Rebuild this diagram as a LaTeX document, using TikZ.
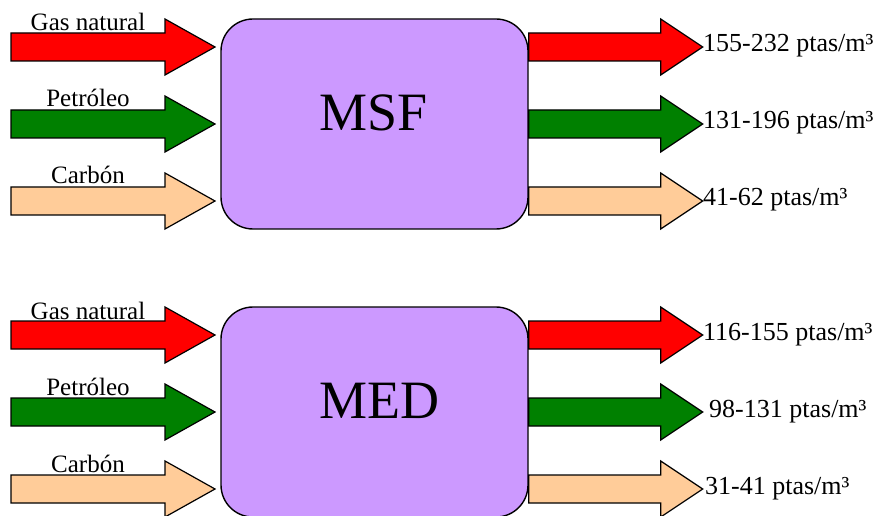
\documentclass[tikz,border=0pt]{standalone}
\usepackage{fontspec}
\setmainfont{Liberation Serif}
\usetikzlibrary{positioning}

\definecolor{boxlilac}{HTML}{CC99FF}
\definecolor{gasred}{HTML}{FF0000}
\definecolor{oilgreen}{HTML}{008000}
\definecolor{coalpeach}{HTML}{FFCC99}

% block arrow: start point, shaft length, head length, fill colour
\newcommand{\fatarrow}[4]{%
  \filldraw[fill=#4, arrowline] #1 ++(0,-14) -- ++(#2,0) -- ++(0,-14) -- ++(#3,28)
    -- ++(-#3,28) -- ++(0,-14) -- ++(-#2,0) -- cycle;}

\begin{document}
\begin{tikzpicture}[x=1pt, y=-1pt,
  arrowline/.style={draw=black, line width=1.2pt, line join=miter},
  procbox/.style={draw=black, line width=1.4pt, fill=boxlilac, rounded corners=32pt,
    minimum width=307pt, minimum height=210pt, inner sep=0pt},
  boxlabel/.style={font=\fontsize{54}{54}\selectfont, inner sep=0pt},
  inlabel/.style={font=\fontsize{25}{25}\selectfont, inner sep=0pt, anchor=base},
  outlabel/.style={font=\fontsize{26}{26}\selectfont, inner sep=0pt, anchor=base west}]
\clip (0,0) rectangle (879,516);

% MSF
\node[procbox] (msf) at (374.5,124) {};
\node[boxlabel, anchor=base west] (msflabel) at (319,131) {MSF};
\coordinate (gasA) at (11,47);
\coordinate (oilA) at (11,124);
\coordinate (coalA) at (11,201);
\fatarrow{(gasA)}{154}{50}{gasred}
\fatarrow{(oilA)}{154}{50}{oilgreen}
\fatarrow{(coalA)}{154}{50}{coalpeach}
\node[inlabel] (gasinA) at (88,31) {Gas natural};
\node[inlabel] (oilinA) at (88,107) {Petróleo};
\node[inlabel] (coalinA) at (88,184) {Carbón};
\coordinate (gasoutA) at (msf.east |- gasA);
\coordinate (oiloutA) at (msf.east |- oilA);
\coordinate (coaloutA) at (msf.east |- coalA);
\fatarrow{(gasoutA)}{132}{42}{gasred}
\fatarrow{(oiloutA)}{132}{42}{oilgreen}
\fatarrow{(coaloutA)}{132}{42}{coalpeach}
\node[outlabel] (gaspriceA) at (703,52) {155-232 ptas/m³};
\node[outlabel] (oilpriceA) at (703,129) {131-196 ptas/m³};
\node[outlabel] (coalpriceA) at (703,206) {41-62 ptas/m³};

% MED
\node[procbox] (med) at (374.5,412) {};
\node[boxlabel, anchor=base west] (medlabel) at (319,418) {MED};
\coordinate (gasB) at (11,335);
\coordinate (oilB) at (11,412);
\coordinate (coalB) at (11,489);
\fatarrow{(gasB)}{154}{50}{gasred}
\fatarrow{(oilB)}{154}{50}{oilgreen}
\fatarrow{(coalB)}{154}{50}{coalpeach}
\node[inlabel] (gasinB) at (88,319) {Gas natural};
\node[inlabel] (oilinB) at (88,395) {Petróleo};
\node[inlabel] (coalinB) at (88,472) {Carbón};
\coordinate (gasoutB) at (med.east |- gasB);
\coordinate (oiloutB) at (med.east |- oilB);
\coordinate (coaloutB) at (med.east |- coalB);
\fatarrow{(gasoutB)}{132}{42}{gasred}
\fatarrow{(oiloutB)}{132}{42}{oilgreen}
\fatarrow{(coaloutB)}{132}{42}{coalpeach}
\node[outlabel] (gaspriceB) at (703,340) {116-155 ptas/m³};
\node[outlabel] (oilpriceB) at (709,417) {98-131 ptas/m³};
\node[outlabel] (coalpriceB) at (705,494) {31-41 ptas/m³};
\end{tikzpicture}
\end{document}
